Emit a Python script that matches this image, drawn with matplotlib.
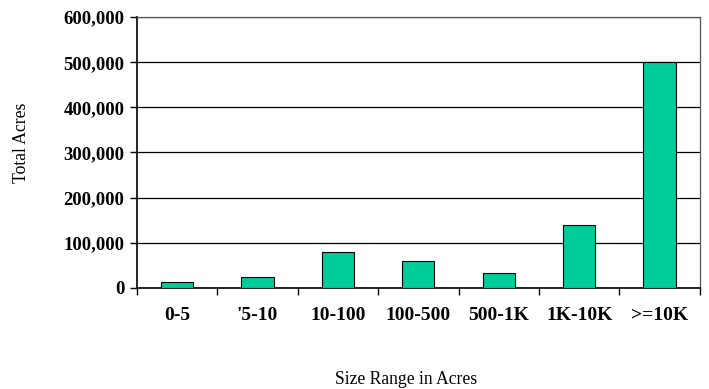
import numpy as np
import matplotlib.pyplot as plt
from matplotlib.ticker import FuncFormatter, FixedLocator

# acreage by parcel size class
size_ranges = ["0-5", "'5-10", "10-100", "100-500", "500-1K", "1K-10K", ">=10K"]
total_acres = [12000, 24000, 80000, 59000, 32000, 140000, 500000]

plt.rcParams["font.family"] = ["Liberation Serif", "DejaVu Serif"]

fig = plt.figure(figsize=(7.09, 3.89), dpi=100)
ax = fig.add_axes([0.193, 0.260, 0.794, 0.696])

x = np.arange(len(size_ranges))
ax.bar(x, total_acres, width=0.4, color="#00CC99", edgecolor="black",
       linewidth=0.8, zorder=3)

ax.set_xlim(-0.5, len(size_ranges) - 0.5)
ax.set_ylim(0, 600000)
ax.set_yticks(np.arange(0, 600001, 100000))
ax.yaxis.set_major_formatter(FuncFormatter(lambda v, p: "{:,.0f}".format(v)))
ax.grid(axis="y", color="black", linewidth=0.9, zorder=0)

ax.set_xticks(x)
ax.set_xticklabels(size_ranges)
ax.xaxis.set_minor_locator(FixedLocator(np.arange(-0.5, len(size_ranges), 1)))
ax.tick_params(axis="x", which="major", length=0, pad=14)
ax.tick_params(axis="x", which="minor", length=5, width=1, direction="out")
ax.tick_params(axis="y", length=5, width=1, direction="out", pad=4)

for lbl in ax.get_xticklabels():
    lbl.set_fontweight("bold")
    lbl.set_fontsize(14)
for lbl in ax.get_yticklabels():
    lbl.set_fontweight("bold")
    lbl.set_fontsize(13.5)

for side in ["left", "bottom"]:
    ax.spines[side].set_linewidth(1.2)
for side in ["top", "right"]:
    ax.spines[side].set_linewidth(0.9)
    ax.spines[side].set_color("#555555")

fig.text(0.031, 0.632, "Total Acres", fontsize=12.7, rotation=90,
         ha="center", va="center")
fig.text(0.573, 0.003, "Size Range in Acres", fontsize=12.7, ha="center",
         va="bottom")

fig.savefig("out.png", dpi=100)
